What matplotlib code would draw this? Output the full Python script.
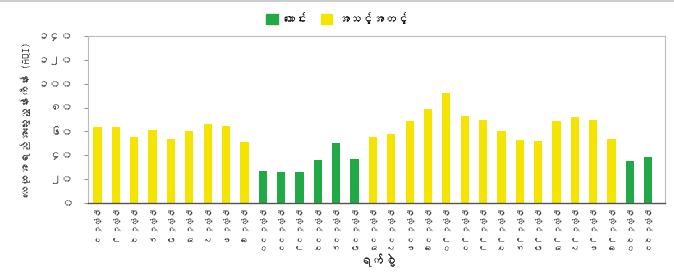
import matplotlib
matplotlib.use("Agg")
import matplotlib.pyplot as plt
from matplotlib import font_manager
from matplotlib.patches import Patch
import numpy as np

# AQI per day
days = ["၁", "၂", "၃", "၄", "၅", "၆", "၇", "၈", "၉", "၁၀",
        "၁၁", "၁၂", "၁၃", "၁၄", "၁၅", "၁၆", "၁၇", "၁၈", "၁၉", "၂၀",
        "၂၁", "၂၂", "၂၃", "၂၄", "၂၅", "၂၆", "၂၇", "၂၈", "၂၉", "၃၀", "၃၁"]
aqi = [64, 64, 55, 61, 54, 60, 66, 65, 51, 27,
       26, 26, 36, 50, 37, 55, 58, 69, 79, 92,
       73, 70, 60, 53, 52, 69, 72, 70, 54, 35, 39]
month = "ဇူလိုင်"
good_label = "ကောင်း"
moderate_label = "အသင့်အတင့်"
yticks = [0, 20, 40, 60, 80, 100, 120, 140]
ytick_labels = ["၀", "၂၀", "၄၀", "၆၀", "၈၀", "၁၀၀", "၁၂၀", "၁၄၀"]
ylabel = "လေထုအရည်အသွေးညွှန်းကိန်း (AQI)"
xlabel = "ရက်စွဲ"

GREEN = "#21a847"
YELLOW = "#f4e400"


# look for any installed font that has Myanmar glyphs
def find_myanmar_font():
    try:
        from fontTools.ttLib import TTFont
    except ImportError:
        return None
    for f in font_manager.fontManager.ttflist:
        try:
            cmap = TTFont(f.fname, fontNumber=0, lazy=True).getBestCmap()
        except Exception:
            continue
        if cmap and 0x1000 in cmap and 0x1040 in cmap:
            return f.name
    return None


mm_font = find_myanmar_font()
families = ([mm_font] if mm_font else []) + ["DejaVu Sans"]
plt.rcParams['font.family'] = families

labels = [f"{month} {d}" for d in days]
colors = [GREEN if v <= 50 else YELLOW for v in aqi]
x = np.arange(len(aqi))

fig = plt.figure(figsize=(6.74, 2.8), dpi=100)
ax = fig.add_axes([0.131, 0.275, 0.856, 0.596])

ax.bar(x, aqi, width=0.45, color=colors, zorder=2)

ax.set_xlim(-0.5, len(aqi) - 0.08)
ax.set_ylim(0, 140)
ax.set_yticks(yticks)
ax.set_yticklabels(ytick_labels, fontsize=8.5, color="#444444")
ax.set_xticks(x)
ax.set_xticklabels(labels, rotation=270, fontsize=5.8, color="#444444")
ax.tick_params(axis='y', length=3, color="#999999", pad=8)
ax.tick_params(axis='x', length=0, pad=3)

for side in ['left', 'top', 'right']:
    ax.spines[side].set_color("#bbbbbb")
    ax.spines[side].set_linewidth(0.8)
ax.spines['bottom'].set_color("#555555")
ax.spines['bottom'].set_linewidth(1.0)

ax.set_ylabel(ylabel, fontsize=8, color="#333333", labelpad=5)
ax.set_xlabel(xlabel, fontsize=9, fontweight='bold', color="#222222", labelpad=2)

handles = [Patch(color=GREEN, label=good_label), Patch(color=YELLOW, label=moderate_label)]
fig.legend(handles=handles, loc='center', bbox_to_anchor=(0.5, 0.935), ncol=2,
           frameon=False, fontsize=8.5, handlelength=1.0, handleheight=1.0,
           handletextpad=0.4, columnspacing=1.2)

# thin grey line along the top edge like the source image
fig.add_artist(plt.Line2D([0, 1], [0.995, 0.995], color="#cccccc", lw=1.5, transform=fig.transFigure))

fig.savefig("out.png", dpi=100)
